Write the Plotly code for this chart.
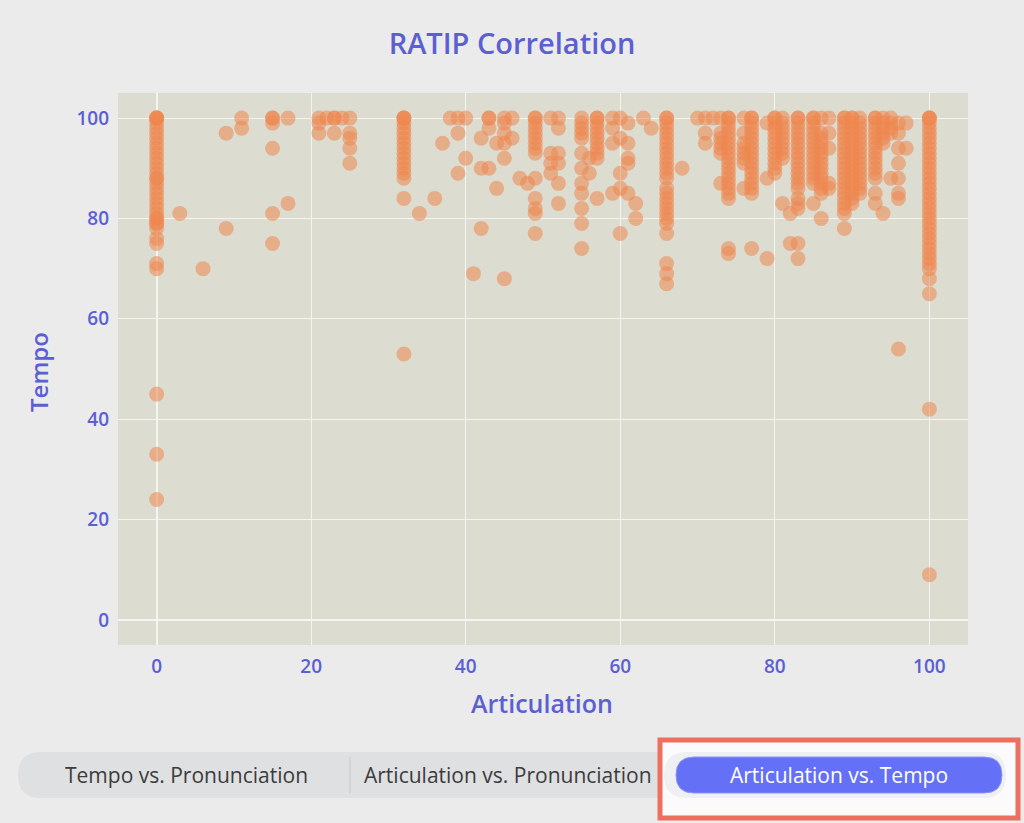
import plotly.graph_objects as go

# ---------------- data ----------------
articulation_levels = [0, 3, 6, 9, 11, 15, 17, 21, 22, 23, 24, 25, 32, 34, 36, 37, 38, 39, 40, 41,
                       42, 43, 44, 45, 46, 47, 48, 49, 51, 52, 55, 56, 57, 59, 60, 61, 62, 63, 64, 66,
                       68, 70, 71, 72, 73, 74, 76, 77, 79, 80, 81, 82, 83, 85, 86, 87, 89, 90, 91, 93,
                       94, 95, 96, 97, 100]

tempo_by_level = [
    [100, 100, 100, 100, 99, 98, 97, 96, 95, 94, 93, 92, 91, 90, 89, 88, 88, 87, 86, 85, 84, 83, 82, 81,
     80, 80, 79, 79, 78, 76, 75, 71, 70, 45, 33, 24],                       # 0
    [81],                                                                    # 3
    [70],                                                                    # 6
    [97, 78],                                                                # 9
    [100, 98],                                                               # 11
    [100, 100, 99, 94, 81, 75],                                              # 15
    [100, 83],                                                               # 17
    [100, 99, 97],                                                           # 21
    [100],                                                                   # 22
    [100, 100, 97],                                                          # 23
    [100],                                                                   # 24
    [100, 97, 96, 94, 91],                                                   # 25
    [100, 100, 100, 99, 98, 97, 96, 95, 94, 93, 92, 91, 90, 89, 88, 84, 53], # 32
    [81],                                                                    # 34
    [84],                                                                    # 36
    [95],                                                                    # 37
    [100],                                                                   # 38
    [100, 97, 89],                                                           # 39
    [100, 92],                                                               # 40
    [69],                                                                    # 41
    [96, 90, 78],                                                            # 42
    [100, 100, 98, 90],                                                      # 43
    [95, 86],                                                                # 44
    [100, 99, 97, 95, 92, 68],                                               # 45
    [100, 96],                                                               # 46
    [88],                                                                    # 47
    [87],                                                                    # 48
    [100, 100, 99, 98, 97, 96, 95, 94, 93, 88, 84, 82, 81, 77],              # 49
    [100, 93, 91, 89],                                                       # 51
    [100, 98, 93, 91, 87, 83],                                               # 52
    [100, 99, 98, 97, 96, 93, 90, 87, 85, 82, 79, 74],                       # 55
    [92, 89],                                                                # 56
    [100, 100, 99, 98, 97, 96, 95, 94, 93, 92, 84],                          # 57
    [100, 98, 95, 85],                                                       # 59
    [100, 96, 89, 86, 77],                                                   # 60
    [99, 95, 92, 91, 85],                                                    # 61
    [83, 80],                                                                # 62
    [100],                                                                   # 63
    [98],                                                                    # 64
    [100, 100, 99, 98, 97, 96, 95, 94, 93, 92, 91, 90, 89, 88, 86, 85, 84, 83, 82, 81, 80, 79, 77,
     71, 69, 67],                                                            # 66
    [90],                                                                    # 68
    [100],                                                                   # 70
    [100, 97, 95],                                                           # 71
    [100],                                                                   # 72
    [100, 97, 96, 95, 94, 93, 87],                                           # 73
    [100, 100, 99, 98, 97, 96, 95, 94, 93, 92, 91, 90, 89, 88, 87, 86, 85, 84, 74, 73],  # 74
    [100, 97, 95, 94, 93, 92, 91, 86],                                       # 76
    [100, 100, 99, 98, 97, 96, 95, 94, 93, 92, 91, 90, 89, 88, 87, 86, 85, 74],          # 77
    [99, 88, 72],                                                            # 79
    [100, 100, 99, 98, 97, 96, 95, 94, 93, 92, 91, 90, 89],                  # 80
    [100, 99, 98, 97, 96, 95, 94, 93, 92, 83],                               # 81
    [81, 75],                                                                # 82
    [100, 100, 99, 98, 97, 96, 95, 94, 93, 92, 91, 90, 89, 88, 87, 86, 84, 83, 82, 75, 72],  # 83
    [100, 100, 99, 98, 97, 96, 95, 94, 93, 92, 91, 90, 89, 88, 87, 83],      # 85
    [100, 97, 96, 95, 94, 93, 92, 91, 90, 89, 88, 87, 86, 85, 80],           # 86
    [100, 97, 94, 87, 86],                                                   # 87
    [100, 100, 99, 98, 97, 96, 95, 94, 93, 92, 91, 90, 89, 88, 87, 86, 85, 84, 83, 82, 81, 78],  # 89
    [100, 100, 99, 98, 97, 96, 95, 94, 93, 92, 91, 90, 89, 88, 87, 86, 85, 84, 83],  # 90
    [100, 99, 98, 97, 96, 95, 94, 93, 92, 91, 90, 89, 88, 87, 86, 85],       # 91
    [100, 100, 99, 98, 97, 96, 95, 94, 93, 92, 91, 90, 89, 88, 85, 83],      # 93
    [100, 99, 98, 97, 96, 95, 81],                                           # 94
    [100, 99, 98, 97, 88],                                                   # 95
    [99, 97, 94, 91, 88, 85, 84, 54],                                        # 96
    [99, 94],                                                                # 97
    [100, 100, 100, 99, 98, 97, 96, 95, 94, 93, 92, 91, 90, 89, 88, 87, 86, 85, 84, 83, 82, 81,
     80, 79, 78, 77, 76, 75, 74, 73, 72, 71, 70, 68, 65, 42, 9],             # 100
]

x_ticks = [0, 20, 40, 60, 80, 100]
y_ticks = [0, 20, 40, 60, 80, 100]
button_labels = ["Tempo vs. Pronunciation", "Articulation vs. Pronunciation", "Articulation vs. Tempo"]

articulation = []
tempo = []
for lvl, vals in zip(articulation_levels, tempo_by_level):
    for v in vals:
        articulation.append(lvl)
        tempo.append(v)

# ---------------- styling ----------------
W, H = 1024, 823
L, R, T, B = 118, 968, 93, 645
BLUE = "#5b5fd3"
FONT = "Open Sans"


def px(x):
    return (x - L) / (R - L)


def py(y):
    return (B - y) / (B - T)


def rrect(x0, y0, x1, y1, r):
    def P(a, b):
        return f"{px(a):.5f},{py(b):.5f}"
    return (f"M {P(x0 + r, y0)} L {P(x1 - r, y0)} Q {P(x1, y0)} {P(x1, y0 + r)} "
            f"L {P(x1, y1 - r)} Q {P(x1, y1)} {P(x1 - r, y1)} L {P(x0 + r, y1)} "
            f"Q {P(x0, y1)} {P(x0, y1 - r)} L {P(x0, y0 + r)} Q {P(x0, y0)} {P(x0 + r, y0)} Z")


fig = go.Figure()
fig.add_trace(go.Scatter(
    x=articulation, y=tempo, mode="markers",
    marker=dict(size=15, color="rgb(238,134,78)", opacity=0.55, line=dict(width=0)),
    showlegend=False,
))

axis_common = dict(
    showgrid=True, gridcolor="#f4f4f0", gridwidth=1,
    zeroline=True, zerolinecolor="#f4f4f0", zerolinewidth=2,
    showline=False, ticks="",
    tickfont=dict(family=FONT, size=19, color=BLUE, weight=600),
)

fig.update_layout(
    width=W, height=H, autosize=False,
    margin=dict(l=L, r=W - R, t=T, b=H - B, pad=0),
    paper_bgcolor="#ebebeb",
    plot_bgcolor="#dcdcd1",
    title=dict(text="RATIP Correlation", x=0.5, xanchor="center", y=1 - 44 / H, yanchor="middle",
               yref="container", font=dict(family=FONT, size=29, color=BLUE, weight=600)),
    xaxis=dict(range=[-5, 105], tickvals=x_ticks, ticklabelstandoff=8, **axis_common),
    yaxis=dict(range=[-5, 105], tickvals=y_ticks, ticklabelstandoff=8, **axis_common),
)

annotations = [
    dict(text="Articulation", x=px(542), y=py(703), xref="paper", yref="paper", showarrow=False,
         xanchor="center", yanchor="middle", font=dict(family=FONT, size=25, color=BLUE, weight=600)),
    dict(text="Tempo", x=px(38), y=py(372), xref="paper", yref="paper", showarrow=False, textangle=-90,
         xanchor="center", yanchor="middle", font=dict(family=FONT, size=24, color=BLUE, weight=600)),
]

shapes = [
    # segmented control background
    dict(type="path", path=rrect(18, 752, 1006, 798, 23), xref="paper", yref="paper",
         fillcolor="#dfe0e2", line=dict(width=0), layer="above"),
    dict(type="line", x0=px(350), x1=px(350), y0=py(757), y1=py(793), xref="paper", yref="paper",
         line=dict(color="#c6c7ca", width=1), layer="above"),
    # highlight box
    dict(type="rect", x0=px(660), x1=px(1018), y0=py(818), y1=py(740), xref="paper", yref="paper",
         fillcolor="#fbfbfb", line=dict(color="#ec6f5f", width=5), layer="above"),
    dict(type="path", path=rrect(664, 752, 1006, 798, 23), xref="paper", yref="paper",
         fillcolor="#eff0f3", line=dict(width=0), layer="above"),
    dict(type="path", path=rrect(676, 757, 1002, 793, 18), xref="paper", yref="paper",
         fillcolor="#6471f6", line=dict(color="#8a93f4", width=1), layer="above"),
]

annotations += [
    dict(text=button_labels[0], x=px(186), y=py(775), xref="paper", yref="paper", showarrow=False,
         xanchor="center", yanchor="middle", font=dict(family=FONT, size=21, color="#3c3c3c")),
    dict(text=button_labels[1], x=px(362), y=py(775), xref="paper", yref="paper", showarrow=False,
         xanchor="left", yanchor="middle", font=dict(family=FONT, size=21, color="#3c3c3c")),
    dict(text=button_labels[2], x=px(839), y=py(775), xref="paper", yref="paper", showarrow=False,
         xanchor="center", yanchor="middle", font=dict(family=FONT, size=21, color="#ffffff")),
]

fig.update_layout(shapes=shapes, annotations=annotations)

fig.write_html("out.html", config={"displayModeBar": False},
               post_script="document.body.style.margin='0';document.body.style.overflow='hidden';")
